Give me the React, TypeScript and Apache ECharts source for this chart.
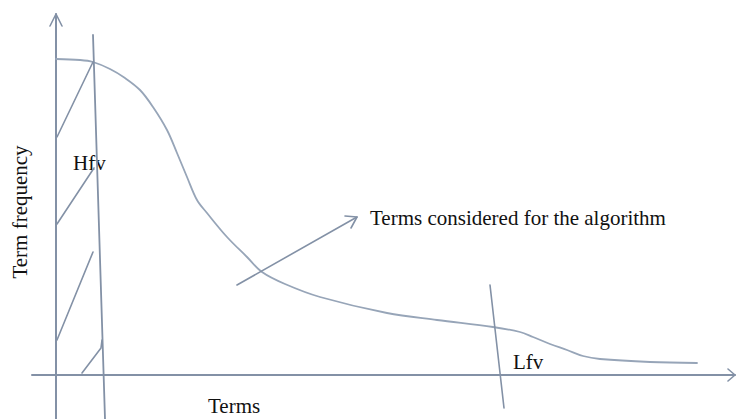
import React, { useEffect, useRef } from "react";
import * as echarts from "echarts";

// Conceptual term-frequency curve (arbitrary units: x = term rank, y = frequency)
const curveX = [0, 24, 37, 54, 69, 84, 97, 111, 121, 131, 141, 151, 171, 191, 206, 229, 264, 331, 381, 437, 464, 477, 494, 511, 527, 544, 594, 641];
const curveY = [316, 315, 313, 306, 297, 285, 268, 245, 222, 198, 175, 162, 138, 118, 103, 91, 78, 62, 55, 48, 43, 38, 31, 25, 19, 16, 13, 12];

// Cut-off lines (high-frequency and low-frequency)
const hfvLine = [[37, 340], [49, -44]];
const lfvLine = [[434, 90], [448, -33]];

// Hatching in the high-frequency zone
const hatch1 = [[1, 238], [37, 313]];
const hatch2 = [[1, 151], [38, 207]];
const hatch3 = [[1, 35], [37, 123]];
const hatch4 = [[26, 2], [45, 27], [46, 35]];

// Arrow pointing to the considered terms
const arrowShaft = [[181, 90], [301, 158]];
const arrowHead = [[289, 159], [301, 158], [295, 147]];

// Axis arrowheads
const yAxisHead = [[-6, 349], [0, 361], [6, 349]];
const xAxisHead = [[672, 6], [679, 0], [672, -6]];

const xRange = [-24, 679];
const yRange = [-44, 361];

const labels = {
  yName: "Term frequency",
  xName: "Terms",
  arrowText: "Terms considered for the algorithm",
  high: "Hfv",
  low: "Lfv",
};

const AXIS_COLOR = "#8391a6";
const CURVE_COLOR = "#97a5b8";
const FONT = '"Liberation Serif", "Times New Roman", serif';

function lineSeries(data: number[][], color: string, width: number, smooth: number | boolean = false) {
  return {
    type: "line",
    data,
    smooth,
    showSymbol: false,
    symbol: "none",
    clip: false,
    silent: true,
    lineStyle: { color, width, cap: "round", join: "round" },
  };
}

export default function App() {
  const ref = useRef<HTMLDivElement>(null);
  useEffect(() => {
    if (!ref.current) return;
    const chart = echarts.init(ref.current, undefined, { renderer: "svg" });
    const curve = curveX.map((x, i) => [x, curveY[i]]);
    chart.setOption({
      animation: false,
      backgroundColor: "#ffffff",
      grid: { left: 32, right: 1, top: 14, bottom: 0 },
      xAxis: {
        type: "value",
        min: xRange[0],
        max: xRange[1],
        axisLine: { show: true, onZero: true, lineStyle: { color: AXIS_COLOR, width: 2 } },
        axisTick: { show: false },
        axisLabel: { show: false },
        splitLine: { show: false },
      },
      yAxis: {
        type: "value",
        min: yRange[0],
        max: yRange[1],
        axisLine: { show: true, onZero: true, lineStyle: { color: AXIS_COLOR, width: 2 } },
        axisTick: { show: false },
        axisLabel: { show: false },
        splitLine: { show: false },
      },
      series: [
        lineSeries(curve, CURVE_COLOR, 1.8, 0.35),
        lineSeries(hfvLine, AXIS_COLOR, 1.8),
        lineSeries(lfvLine, AXIS_COLOR, 1.6),
        lineSeries(hatch1, AXIS_COLOR, 1.6),
        lineSeries(hatch2, AXIS_COLOR, 1.6),
        lineSeries(hatch3, AXIS_COLOR, 1.6),
        lineSeries(hatch4, AXIS_COLOR, 1.6),
        lineSeries(arrowShaft, AXIS_COLOR, 1.6),
        lineSeries(arrowHead, AXIS_COLOR, 1.6),
        lineSeries(yAxisHead, AXIS_COLOR, 1.6),
        lineSeries(xAxisHead, AXIS_COLOR, 1.6),
      ],
      graphic: [
        {
          type: "text",
          x: 20,
          y: 212,
          rotation: Math.PI / 2,
          style: { text: labels.yName, fill: "#111", fontSize: 21, fontFamily: FONT, align: "center", verticalAlign: "middle" },
        },
        {
          type: "text",
          x: 208,
          y: 406,
          style: { text: labels.xName, fill: "#111", fontSize: 21, fontFamily: FONT, align: "left", verticalAlign: "middle" },
        },
        {
          type: "text",
          x: 370,
          y: 218,
          style: { text: labels.arrowText, fill: "#111", fontSize: 21, fontFamily: FONT, align: "left", verticalAlign: "middle" },
        },
        {
          type: "text",
          x: 73,
          y: 163,
          style: { text: labels.high, fill: "#111", fontSize: 21, fontFamily: FONT, align: "left", verticalAlign: "middle" },
        },
        {
          type: "text",
          x: 513,
          y: 362,
          style: { text: labels.low, fill: "#111", fontSize: 21, fontFamily: FONT, align: "left", verticalAlign: "middle" },
        },
      ],
    });
    return () => chart.dispose();
  }, []);
  return <div ref={ref} style={{ position: "absolute", left: 0, top: 0, width: 736, height: 419 }} />;
}
